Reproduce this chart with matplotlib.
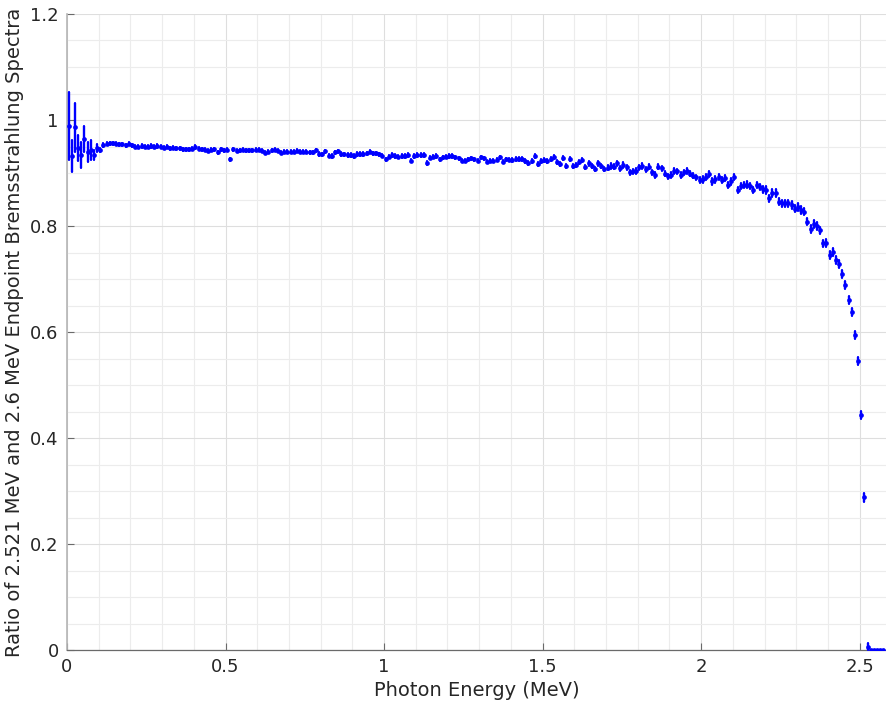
import numpy as np
import matplotlib
matplotlib.use("Agg")
import matplotlib.pyplot as plt
from matplotlib.ticker import MultipleLocator

# bin centres, 10 keV wide
energy = np.round(np.arange(258) * 0.01 + 0.005, 3)

ratio = [
    0.989, 0.932, 0.986, 0.947, 0.934, 0.964, 0.940, 0.943, 0.934, 0.947,
    0.943, 0.953, 0.955, 0.956, 0.956, 0.955, 0.954, 0.954, 0.952, 0.955,
    0.952, 0.950, 0.950, 0.951, 0.950, 0.950, 0.951, 0.950, 0.951, 0.950,
    0.948, 0.950, 0.947, 0.948, 0.947, 0.947, 0.945, 0.945, 0.945, 0.946,
    0.949, 0.946, 0.945, 0.944, 0.942, 0.944, 0.945, 0.939, 0.945, 0.943,
    0.944, 0.926, 0.945, 0.942, 0.943, 0.944, 0.943, 0.943, 0.943, 0.944,
    0.944, 0.942, 0.938, 0.940, 0.943, 0.944, 0.942, 0.938, 0.940, 0.940,
    0.940, 0.940, 0.942, 0.940, 0.940, 0.940, 0.939, 0.939, 0.943, 0.936,
    0.935, 0.941, 0.933, 0.932, 0.939, 0.941, 0.936, 0.935, 0.934, 0.934,
    0.932, 0.936, 0.936, 0.936, 0.937, 0.940, 0.937, 0.937, 0.935, 0.933,
    0.926, 0.931, 0.934, 0.932, 0.931, 0.932, 0.932, 0.934, 0.923, 0.932,
    0.934, 0.934, 0.934, 0.919, 0.929, 0.931, 0.932, 0.926, 0.930, 0.931,
    0.932, 0.932, 0.930, 0.928, 0.923, 0.923, 0.926, 0.928, 0.926, 0.923,
    0.930, 0.928, 0.921, 0.923, 0.923, 0.925, 0.930, 0.921, 0.926, 0.925,
    0.925, 0.926, 0.926, 0.926, 0.923, 0.919, 0.923, 0.932, 0.917, 0.923,
    0.925, 0.923, 0.926, 0.930, 0.921, 0.917, 0.928, 0.913, 0.926, 0.913,
    0.915, 0.921, 0.925, 0.911, 0.918, 0.913, 0.907, 0.918, 0.913, 0.907,
    0.910, 0.913, 0.912, 0.918, 0.909, 0.915, 0.911, 0.901, 0.903, 0.904,
    0.911, 0.913, 0.907, 0.912, 0.901, 0.896, 0.912, 0.909, 0.899, 0.894,
    0.896, 0.904, 0.903, 0.896, 0.901, 0.904, 0.899, 0.895, 0.892, 0.887,
    0.888, 0.892, 0.898, 0.884, 0.888, 0.893, 0.887, 0.890, 0.877, 0.884,
    0.893, 0.868, 0.876, 0.877, 0.878, 0.875, 0.868, 0.877, 0.873, 0.869,
    0.868, 0.852, 0.862, 0.862, 0.846, 0.843, 0.843, 0.843, 0.840, 0.833,
    0.836, 0.830, 0.827, 0.808, 0.794, 0.804, 0.800, 0.792, 0.767, 0.768,
    0.745, 0.751, 0.736, 0.728, 0.709, 0.689, 0.660, 0.638, 0.594, 0.545,
    0.443, 0.288, 0.006, 0.0, 0.0, 0.0, 0.0, 0.0,
]

# large uncertainties in the first few bins
err_start = [0.064, 0.030, 0.046, 0.025, 0.025, 0.024, 0.019, 0.019, 0.009, 0.007, 0.004]
# typical uncertainty in each 0.1 MeV slice
err_level = [0.003, 0.003, 0.003, 0.003, 0.003, 0.003, 0.003, 0.003, 0.003, 0.003,
             0.003, 0.003, 0.003, 0.003, 0.004, 0.004, 0.004, 0.005, 0.005, 0.005,
             0.006, 0.006, 0.007, 0.007, 0.008, 0.008]

ratio = np.array(ratio)
err = np.repeat(err_level, 10)[:len(energy)].astype(float)
err[:len(err_start)] = err_start
err[ratio == 0] = 0

txt = "#262626"
plt.rcParams['font.family'] = ['DejaVu Sans']

fig = plt.figure(figsize=(8.86, 7.02), dpi=100)
ax = fig.add_axes([67/886, 52/702, 1 - 67/886, 636/702])

ax.errorbar(energy, ratio, yerr=err, fmt='o', color='#0000ff', ms=3.4,
            mec='none', elinewidth=1.7, capsize=0.9, capthick=1.2, zorder=3)

ax.set_xlim(0, 2.583)
ax.set_ylim(0, 1.2)
ax.xaxis.set_major_locator(MultipleLocator(0.5))
ax.xaxis.set_minor_locator(MultipleLocator(0.1))
ax.yaxis.set_major_locator(MultipleLocator(0.2))
ax.yaxis.set_minor_locator(MultipleLocator(0.05))
ax.set_xticklabels([], minor=True)
ax.set_yticklabels([], minor=True)
ax.xaxis.set_major_formatter(plt.FuncFormatter(lambda v, p: f"{v:g}"))
ax.yaxis.set_major_formatter(plt.FuncFormatter(lambda v, p: f"{v:g}"))

ax.grid(True, which='major', color='#dedede', linewidth=0.8)
ax.grid(True, which='minor', color='#ececec', linewidth=0.8)
ax.set_axisbelow(True)

ax.tick_params(which='major', direction='in', length=5, width=0.8,
               colors='#6a6a6a', labelcolor=txt, labelsize=13, pad=6)
ax.tick_params(which='minor', length=0)

for s in ['top', 'right']:
    ax.spines[s].set_visible(False)
ax.spines['left'].set_color('#b5b5b5')
ax.spines['left'].set_linewidth(1.2)
ax.spines['bottom'].set_color('#6a6a6a')
ax.spines['bottom'].set_linewidth(0.9)

ax.set_xlabel("Photon Energy (MeV)", fontsize=14, color=txt, labelpad=3)
ax.set_ylabel("Ratio of 2.521 MeV and 2.6 MeV Endpoint Bremsstrahlung Spectra",
              fontsize=14, color=txt, labelpad=4)

fig.savefig("out.png", dpi=100)
